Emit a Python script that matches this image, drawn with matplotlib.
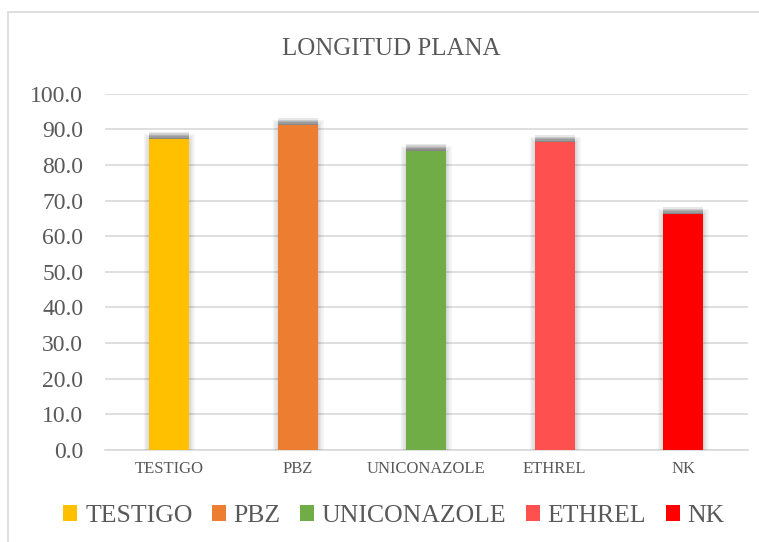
import matplotlib
matplotlib.use("Agg")
import matplotlib.pyplot as plt
import matplotlib.patheffects as pe
from matplotlib.patches import Rectangle, Patch

# data
treatments = ['TESTIGO', 'PBZ', 'UNICONAZOLE', 'ETHREL', 'NK']
longitud = [87.3, 91.2, 84.0, 86.4, 66.2]
colors = ['#FFC000', '#ED7D31', '#70AD47', '#FF5050', '#FF0000']
yticks = [0, 10, 20, 30, 40, 50, 60, 70, 80, 90, 100]

plt.rcParams['font.family'] = ['Liberation Serif', 'DejaVu Serif']
text_color = '#595959'
grid_color = '#d9d9d9'

fig = plt.figure(figsize=(7.59, 5.42), dpi=100)
ax = fig.add_axes([0.138, 0.170, 0.847, 0.657])

# soft blurred gray shadow, mostly above each bar
shadow = [pe.Stroke(linewidth=lw, foreground='black', alpha=0.035) for lw in (8, 6, 4, 2)]
shadow += [pe.SimplePatchShadow(offset=(0, off), shadow_rgbFace='black', alpha=0.09)
           for off in (5, 4, 3, 2, 1)]
shadow.append(pe.Normal())

for i, (name, val) in enumerate(zip(treatments, longitud)):
    bars = ax.bar(i, val, width=0.31, color=colors[i], zorder=3)
    for b in bars:
        b.set_path_effects(shadow)

ax.set_xlim(-0.5, len(treatments) - 0.5)
ax.set_ylim(0, 100)
ax.set_yticks(yticks)
ax.set_yticklabels([f'{v:.1f}' for v in yticks], fontsize=17, color=text_color)
ax.set_xticks(range(len(treatments)))
ax.set_xticklabels(treatments, fontsize=12, color=text_color)
ax.tick_params(axis='both', length=0)
ax.tick_params(axis='y', pad=15.5)
ax.tick_params(axis='x', pad=8)

ax.grid(axis='y', color=grid_color, linewidth=1.2, zorder=0)
for s in ['top', 'right', 'left']:
    ax.spines[s].set_visible(False)
ax.spines['bottom'].set_color(grid_color)
ax.spines['bottom'].set_linewidth(1.2)

fig.text(0.515, 0.91, 'LONGITUD PLANA', ha='center', va='center',
         fontsize=18, color=text_color)

handles = [Patch(facecolor=c, label=n) for n, c in zip(treatments, colors)]
leg = fig.legend(handles=handles, loc='center', bbox_to_anchor=(0.519, 0.048),
                 ncol=5, frameon=False, fontsize=18.5, handlelength=0.55,
                 handleheight=0.55, handletextpad=0.3, columnspacing=0.75)
for t in leg.get_texts():
    t.set_color(text_color)

# light border round the chart area
fig.patches.append(Rectangle((8 / 759, -0.01), 1.0, 1 - 12 / 542 + 0.01,
                             transform=fig.transFigure, fill=False,
                             edgecolor='#d9d9d9', linewidth=1.2))

fig.savefig('out.png', dpi=100)
